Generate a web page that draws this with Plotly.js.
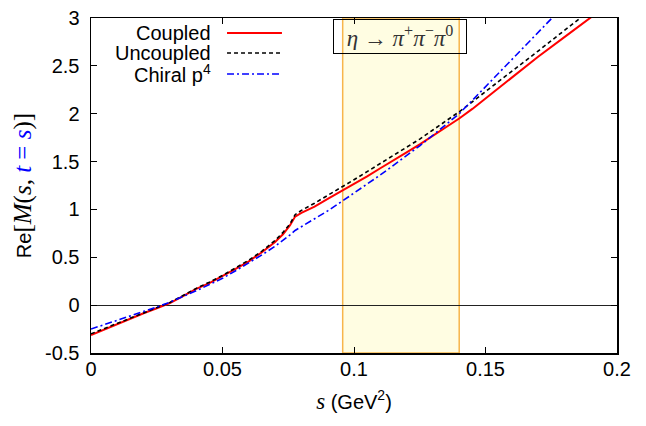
<!DOCTYPE html>
<html>
<head>
<meta charset="utf-8">
<script src="https://cdn.plot.ly/plotly-3.0.1.min.js"></script>
<style>html,body{margin:0;padding:0;background:#fff;}#chart{width:646px;height:426px;}</style>
</head>
<body>
<div id="chart"></div>
<script>
// s values (GeV^2)
const sValues = [0, 0.005, 0.01, 0.015, 0.02, 0.025, 0.03, 0.035, 0.04, 0.045, 0.05, 0.055, 0.06, 0.065, 0.07, 0.073, 0.0757, 0.0776, 0.08, 0.085, 0.09, 0.0957, 0.1, 0.105, 0.11, 0.115, 0.12, 0.125, 0.13, 0.135, 0.14, 0.145, 0.15, 0.16, 0.17, 0.18, 0.19, 0.2];
const coupled = [-0.313, -0.255, -0.198, -0.14, -0.085, -0.032, 0.022, 0.095, 0.17, 0.23, 0.30, 0.378, 0.458, 0.553, 0.66, 0.74, 0.835, 0.925, 0.965, 1.03, 1.11, 1.198, 1.265, 1.345, 1.43, 1.51, 1.595, 1.68, 1.77, 1.86, 1.95, 2.05, 2.16, 2.38, 2.595, 2.80, 3.005, 3.21];
const uncoupled = [-0.30, -0.245, -0.19, -0.134, -0.08, -0.027, 0.028, 0.10, 0.175, 0.24, 0.31, 0.39, 0.47, 0.565, 0.675, 0.76, 0.85, 0.945, 0.99, 1.065, 1.145, 1.24, 1.31, 1.395, 1.48, 1.565, 1.65, 1.735, 1.83, 1.925, 2.02, 2.125, 2.23, 2.44, 2.655, 2.87, 3.08, 3.30];
const chiral = [-0.25, -0.205, -0.16, -0.114, -0.068, -0.02, 0.03, 0.088, 0.15, 0.215, 0.28, 0.36, 0.44, 0.525, 0.615, 0.675, 0.735, 0.78, 0.82, 0.895, 0.985, 1.09, 1.17, 1.265, 1.36, 1.46, 1.56, 1.665, 1.775, 1.885, 2.0, 2.14, 2.28, 2.56, 2.85, 3.13, 3.42, 3.70];
// physical region band (GeV^2)
const bandRange = [0.0957, 0.140];
const seriesNames = ["Coupled", "Uncoupled", "Chiral p<sup>4</sup>"];
const xTickVals = [0, 0.05, 0.1, 0.15, 0.2];
const xTickText = ["0", "0.05", "0.1", "0.15", "0.2"];
const yTickVals = [-0.5, 0, 0.5, 1, 1.5, 2, 2.5, 3];
const yTickText = ["-0.5", "0", "0.5", "1", "1.5", "2", "2.5", "3"];

const styles = [
  {color: "#ff0000", width: 2, dash: "solid"},
  {color: "#000000", width: 1.6, dash: "4px,3px"},
  {color: "#0000ff", width: 1.6, dash: "7px,3px,2px,3px"}
];
const ySeries = [coupled, uncoupled, chiral];

const traces = ySeries.map((ys, i) => ({
  x: sValues, y: ys, type: "scatter", mode: "lines",
  name: seriesNames[i], line: styles[i], showlegend: false, hoverinfo: "skip"
}));

const sansFont = "Liberation Sans, Arial, sans-serif";
const serif = "Liberation Serif, DejaVu Serif, serif";

// manual legend: text right-aligned, sample line to its right
const legY = [0.955, 0.8955, 0.833];
const legendAnn = seriesNames.map((n, i) => ({
  xref: "paper", yref: "paper", x: 0.232, y: legY[i], xanchor: "right", yanchor: "middle",
  text: n, showarrow: false, font: {family: sansFont, size: 20, color: "#000"}
}));
const legendShapes = styles.map((st, i) => ({
  type: "line", xref: "paper", yref: "paper", x0: 0.2586, x1: 0.363, y0: legY[i], y1: legY[i],
  line: {color: st.color, width: st.width, dash: st.dash}
}));

const layout = {
  width: 646, height: 426,
  margin: {l: 91, r: 29, t: 18, b: 73},
  paper_bgcolor: "#fff", plot_bgcolor: "rgba(0,0,0,0)",
  font: {family: sansFont, size: 20, color: "#000"},
  xaxis: {
    range: [0, 0.2], tickvals: xTickVals, ticktext: xTickText,
    ticks: "inside", ticklen: 6, tickwidth: 1, tickcolor: "#000",
    showline: true, linecolor: "#000", linewidth: 1.5, mirror: "allticks",
    showgrid: false, zeroline: false, ticklabelstandoff: -3,
    tickfont: {family: sansFont, size: 20},
    title: {text: "<span style=\"font-family:Liberation Serif;font-size:23px\"><i>s</i></span> (GeV<sup>2</sup>)", font: {family: sansFont, size: 20}, standoff: 16},
    automargin: false
  },
  yaxis: {
    range: [-0.5, 3], tickvals: yTickVals, ticktext: yTickText,
    ticks: "inside", ticklen: 6, tickwidth: 1, tickcolor: "#000",
    showline: true, linecolor: "#000", linewidth: 1.5, mirror: "allticks",
    showgrid: false, zeroline: true, zerolinecolor: "#222", zerolinewidth: 1,
    ticklabelstandoff: 6,
    tickfont: {family: sansFont, size: 20},
    title: {text: "Re<span style=\"font-family:Liberation Serif;font-size:25px\">[<i>M</i>(<i>s</i>,<i> </i><span style=\"color:#0000ff\"><i>t</i> = <i>s</i></span>)]</span>\u00a0\u00a0\u00a0\u00a0", font: {family: sansFont, size: 20}, standoff: 8},
    automargin: false
  },
  shapes: [
    {type: "rect", xref: "x", yref: "paper", x0: bandRange[0], x1: bandRange[1], y0: 0, y1: 1,
     fillcolor: "#fffde2", line: {color: "#f7b54a", width: 1.5}, layer: "below"}
  ].concat(legendShapes),
  annotations: [
    {xref: "paper", yref: "paper", x: 0.588, y: 0.945, xanchor: "center", yanchor: "middle",
     text: "<i>η</i> → <i>π</i><sup>+</sup><i>π</i><sup>−</sup><i>π</i><sup>0</sup>",
     showarrow: false, font: {family: serif, size: 23, color: "#333"},
     bordercolor: "#000", borderwidth: 1, borderpad: 3, width: 126, height: 27, bgcolor: "rgba(0,0,0,0)"}
  ].concat(legendAnn)
};

Plotly.newPlot("chart", traces, layout, {staticPlot: true, displayModeBar: false});
</script>
</body>
</html>
